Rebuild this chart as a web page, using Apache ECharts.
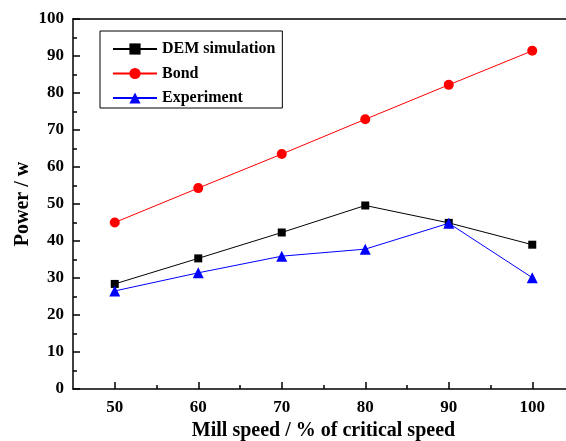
<!DOCTYPE html>
<html><head><meta charset="utf-8">
<script src="https://cdn.jsdelivr.net/npm/echarts@6/dist/echarts.min.js"></script>
<style>html,body{margin:0;padding:0;background:#fff}#c{width:566px;height:441px}</style>
</head><body><div id="c"></div>
<script>
var millSpeed = [50, 60, 70, 80, 90, 100];
var demSimulation = [28.4, 35.3, 42.3, 49.6, 44.9, 39.0];
var bond = [45.0, 54.3, 63.5, 72.9, 82.2, 91.4];
var experiment = [26.5, 31.4, 35.9, 37.8, 44.8, 30.1];
var xMajorTicks = [50, 60, 70, 80, 90, 100];
var xMinorTicks = [55, 65, 75, 85, 95];

var FONT = '"Liberation Serif", "Times New Roman", serif';
function pairs(v) { return millSpeed.map(function (x, i) { return [x, v[i]]; }); }

var chart = echarts.init(document.getElementById('c'), null, {renderer: 'canvas'});
chart.setOption({
  animation: false,
  backgroundColor: '#fff',
  grid: {left: 73, top: 19, bottom: 52, right: -8, containLabel: false, outerBoundsMode: 'none'},
  legend: {
    orient: 'vertical', left: 100, top: 31,
    borderColor: '#000', borderWidth: 1, padding: [10, 7, 2, 12],
    itemWidth: 44, itemHeight: 14, itemGap: 8.5,
    textStyle: {fontFamily: FONT, fontWeight: 'bold', fontSize: 16, color: '#000'},
    data: ['DEM simulation', 'Bond', 'Experiment']
  },
  xAxis: [{
    type: 'value', min: 45, max: 105,
    axisLine: {show: true, lineStyle: {color: '#000', width: 1.5}},
    axisTick: {show: true, inside: true, length: 7, customValues: xMajorTicks, lineStyle: {color: '#000', width: 1.5}},
    axisLabel: {customValues: xMajorTicks, margin: 10, fontFamily: FONT, fontWeight: 'bold', fontSize: 17, color: '#000'},
    splitLine: {show: false},
    name: 'Mill speed / % of critical speed', nameLocation: 'middle', nameGap: 28,
    nameTextStyle: {fontFamily: FONT, fontWeight: 'bold', fontSize: 20, color: '#000'}
  }, {
    type: 'value', min: 45, max: 105, position: 'bottom',
    axisLine: {show: false},
    axisTick: {show: true, inside: true, length: 4, customValues: xMinorTicks, lineStyle: {color: '#000', width: 1.5}},
    axisLabel: {show: false}, splitLine: {show: false}
  }, {
    type: 'value', min: 45, max: 105, position: 'top',
    axisLine: {show: true, lineStyle: {color: '#000', width: 1.5}},
    axisTick: {show: false}, axisLabel: {show: false}, splitLine: {show: false}
  }],
  yAxis: {
    type: 'value', min: 0, max: 100, interval: 10,
    axisLine: {show: true, lineStyle: {color: '#000', width: 1.5}},
    axisTick: {show: true, inside: true, length: 7, lineStyle: {color: '#000', width: 1.5}},
    minorTick: {show: true, splitNumber: 2, length: 4, lineStyle: {color: '#000', width: 1.5}},
    axisLabel: {margin: 9, fontFamily: FONT, fontWeight: 'bold', fontSize: 17, color: '#000'},
    splitLine: {show: false},
    name: 'Power / w', nameLocation: 'middle', nameGap: 40, nameMoveOverlap: false,
    nameTextStyle: {fontFamily: FONT, fontWeight: 'bold', fontSize: 20, color: '#000'}
  },
  series: [{
    name: 'DEM simulation', type: 'line', data: pairs(demSimulation),
    symbol: 'rect', symbolSize: 8, color: '#000',
    lineStyle: {color: '#000', width: 1}, itemStyle: {color: '#000'}, z: 3
  }, {
    name: 'Bond', type: 'line', data: pairs(bond),
    symbol: 'circle', symbolSize: 10, color: '#f00',
    lineStyle: {color: '#f00', width: 1}, itemStyle: {color: '#f00'}, z: 2
  }, {
    name: 'Experiment', type: 'line', data: pairs(experiment),
    symbol: 'triangle', symbolSize: 11, color: '#00f',
    lineStyle: {color: '#00f', width: 1}, itemStyle: {color: '#00f'}, z: 4
  }]
});
</script></body></html>
